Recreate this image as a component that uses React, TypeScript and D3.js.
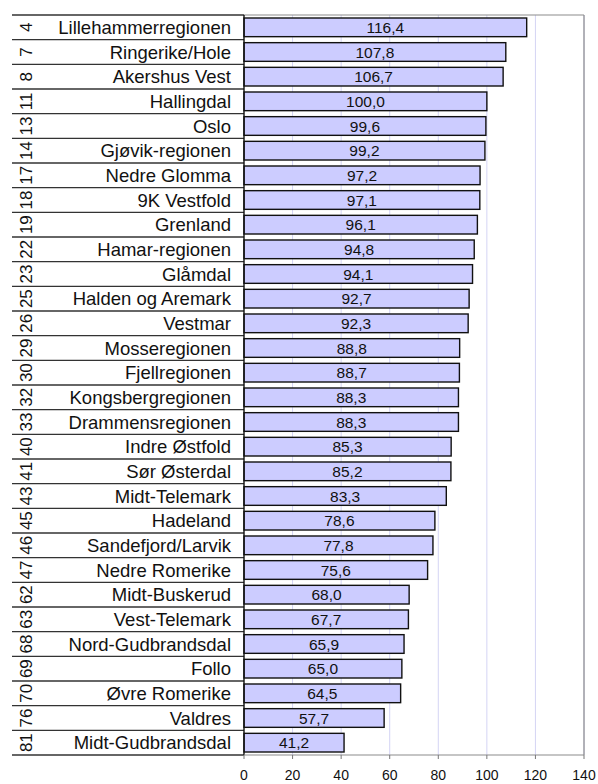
import React from "react";
import * as d3 from "d3";

const ranks = [4, 7, 8, 11, 13, 14, 17, 18, 19, 22, 23, 25, 26, 29, 30, 32, 33, 40, 41, 43, 45, 46, 47, 62, 63, 68, 69, 70, 76, 81];
const regions = [
  "Lillehammerregionen", "Ringerike/Hole", "Akershus Vest", "Hallingdal", "Oslo", "Gjøvik-regionen",
  "Nedre Glomma", "9K Vestfold", "Grenland", "Hamar-regionen", "Glåmdal", "Halden og Aremark",
  "Vestmar", "Mosseregionen", "Fjellregionen", "Kongsbergregionen", "Drammensregionen", "Indre Østfold",
  "Sør Østerdal", "Midt-Telemark", "Hadeland", "Sandefjord/Larvik", "Nedre Romerike", "Midt-Buskerud",
  "Vest-Telemark", "Nord-Gudbrandsdal", "Follo", "Øvre Romerike", "Valdres", "Midt-Gudbrandsdal",
];
const values = [116.4, 107.8, 106.7, 100.0, 99.6, 99.2, 97.2, 97.1, 96.1, 94.8, 94.1, 92.7, 92.3, 88.8, 88.7, 88.3, 88.3, 85.3, 85.2, 83.3, 78.6, 77.8, 75.6, 68.0, 67.7, 65.9, 65.0, 64.5, 57.7, 41.2];
const xTicks = [0, 20, 40, 60, 80, 100, 120, 140];

const FONT = "'Liberation Sans', Arial, sans-serif";

export default function App() {
  const W = 598, H = 784;
  const left = 244, right = 584, top = 15, bottom = 755;
  const tableLeft = 12;
  const x = d3.scaleLinear().domain([0, 140]).range([left, right]);
  const yBand = d3.scaleBand<number>().domain(d3.range(regions.length)).range([top, bottom]).paddingInner(0).paddingOuter(0);
  const bw = yBand.bandwidth();
  const barPad = 3;
  const fmt = (v: number) => v.toFixed(1).replace(".", ",");

  return (
    <svg width={W} height={H} style={{ position: "absolute", left: 0, top: 0, display: "block", background: "#fff" }} fontFamily={FONT}>
      {/* gridlines */}
      {xTicks.slice(1).map((t) => (
        <line key={"g" + t} x1={x(t)} x2={x(t)} y1={top} y2={bottom} stroke="#d4d4f4" strokeWidth={1} />
      ))}
      {/* plot border top/right */}
      <line x1={left} x2={right} y1={top} y2={top} stroke="#8c8c8c" strokeWidth={1.2} />
      <line x1={right} x2={right} y1={top} y2={bottom} stroke="#8c8c8c" strokeWidth={1.2} />
      {/* bars */}
      {values.map((v, i) => (
        <g key={"b" + i}>
          <rect x={x(0)} y={(yBand(i) as number) + barPad} width={x(v) - x(0)} height={bw - 2 * barPad} fill="#ccccff" stroke="#111" strokeWidth={1.4} />
          <text x={(x(0) + x(v)) / 2} y={(yBand(i) as number) + bw / 2} dy="0.36em" textAnchor="middle" fontSize={15.5} fill="#111">
            {fmt(v)}
          </text>
        </g>
      ))}
      {/* table rows */}
      {regions.map((r, i) => {
        const y0 = yBand(i) as number;
        const cy = y0 + bw / 2;
        return (
          <g key={"r" + i}>
            <text x={231} y={cy} dy="0.36em" textAnchor="end" fontSize={18.5} fill="#111">{r}</text>
            <text transform={`translate(26,${cy}) rotate(-90)`} dy="0.36em" textAnchor="middle" fontSize={17} fill="#111">{ranks[i]}</text>
          </g>
        );
      })}
      {d3.range(regions.length + 1).map((i) => {
        const yy = i === regions.length ? bottom : (yBand(i) as number);
        return <line key={"h" + i} x1={tableLeft} x2={left} y1={yy} y2={yy} stroke="#333" strokeWidth={1.4} />;
      })}
      <line x1={left} x2={left} y1={top} y2={bottom} stroke="#111" strokeWidth={1.4} />
      {/* x axis */}
      <line x1={left} x2={right} y1={bottom} y2={bottom} stroke="#8c8c8c" strokeWidth={1.2} />
      {xTicks.map((t) => (
        <g key={"t" + t}>
          <line x1={x(t)} x2={x(t)} y1={bottom} y2={bottom + 4} stroke="#777" strokeWidth={1} />
          <text x={x(t)} y={780} textAnchor="middle" fontSize={14} fill="#111">{t}</text>
        </g>
      ))}
    </svg>
  );
}
